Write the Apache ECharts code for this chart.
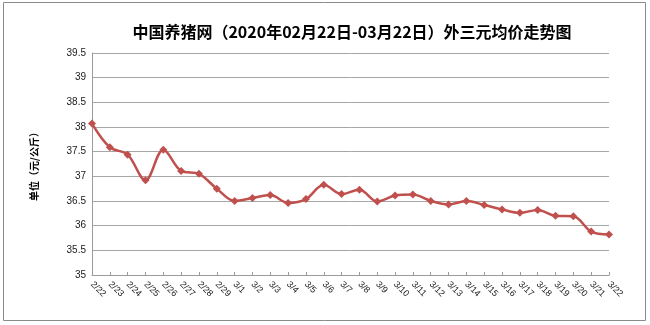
<!DOCTYPE html>
<html>
<head>
<meta charset="utf-8">
<script src="https://cdn.jsdelivr.net/npm/echarts@6/dist/echarts.min.js"></script>
<style>
  html, body { margin: 0; padding: 0; background: #ffffff; }
  #chart { width: 650px; height: 325px; }
</style>
</head>
<body>
<div id="chart"></div>
<script>
// Daily dates for the period
const dates = [
  '2/22', '2/23', '2/24', '2/25', '2/26', '2/27', '2/28', '2/29',
  '3/1', '3/2', '3/3', '3/4', '3/5', '3/6', '3/7', '3/8', '3/9', '3/10',
  '3/11', '3/12', '3/13', '3/14', '3/15', '3/16', '3/17', '3/18', '3/19',
  '3/20', '3/21', '3/22'
];

// Average price of crossbred (外三元) hogs, yuan per kg
const prices = [
  38.07, 37.59, 37.44, 36.92, 37.54, 37.11, 37.05, 36.75,
  36.50, 36.56, 36.62, 36.46, 36.54, 36.83, 36.64, 36.73, 36.49, 36.61,
  36.63, 36.50, 36.43, 36.50, 36.42, 36.33, 36.26, 36.32, 36.20,
  36.19, 35.88, 35.82
];

const chartTitle = '中国养猪网（2020年02月22日-03月22日）外三元均价走势图';
const yAxisName = '单位（元/公斤）';

const chart = echarts.init(document.getElementById('chart'), null, { renderer: 'canvas' });

const cjk = '"Noto Sans CJK SC", "Noto Sans", sans-serif';
const latin = '"Liberation Sans", "Noto Sans", sans-serif';

chart.setOption({
  backgroundColor: '#ffffff',
  animation: false,
  title: {
    text: chartTitle,
    left: 347,
    top: 19,
    textAlign: 'center',
    textStyle: {
      fontFamily: cjk,
      fontSize: 16,
      fontWeight: 'bold',
      color: '#000000'
    }
  },
  graphic: [
    {
      type: 'rect',
      shape: { x: 3.5, y: 2.5, width: 642, height: 318 },
      style: { fill: 'none', stroke: '#8a8a8a', lineWidth: 1 },
      silent: true,
      z: -1
    }
  ],
  grid: {
    left: 92,
    right: 41,
    top: 53,
    bottom: 50,
    containLabel: false
  },
  xAxis: {
    type: 'category',
    data: dates,
    boundaryGap: false,
    axisLine: { lineStyle: { color: '#9a9a9a', width: 1 } },
    axisTick: {
      show: true,
      inside: true,
      length: 3,
      alignWithLabel: true,
      lineStyle: { color: '#9a9a9a' }
    },
    axisLabel: {
      rotate: -45,
      interval: 0,
      margin: 8,
      fontFamily: latin,
      fontSize: 9,
      color: '#1a1a1a'
    },
    splitLine: { show: false }
  },
  yAxis: {
    type: 'value',
    min: 35,
    max: 39.5,
    interval: 0.5,
    name: yAxisName,
    nameLocation: 'middle',
    nameRotate: 90,
    nameGap: 53,
    nameTextStyle: {
      fontFamily: cjk,
      fontSize: 10,
      fontWeight: 'bold',
      color: '#000000'
    },
    axisLine: { show: true, lineStyle: { color: '#9a9a9a', width: 1 } },
    axisTick: { show: false },
    axisLabel: {
      margin: 6,
      fontFamily: latin,
      fontSize: 10,
      color: '#1a1a1a',
      formatter: function (v) { return String(Math.round(v * 10) / 10); }
    },
    splitLine: { lineStyle: { color: '#a6a6a6', width: 1 } }
  },
  series: [
    {
      type: 'line',
      data: prices,
      smooth: 0.35,
      symbol: 'diamond',
      symbolSize: 8,
      lineStyle: { color: '#c0504d', width: 2.5 },
      itemStyle: { color: '#c0504d' }
    }
  ]
});
</script>
</body>
</html>
